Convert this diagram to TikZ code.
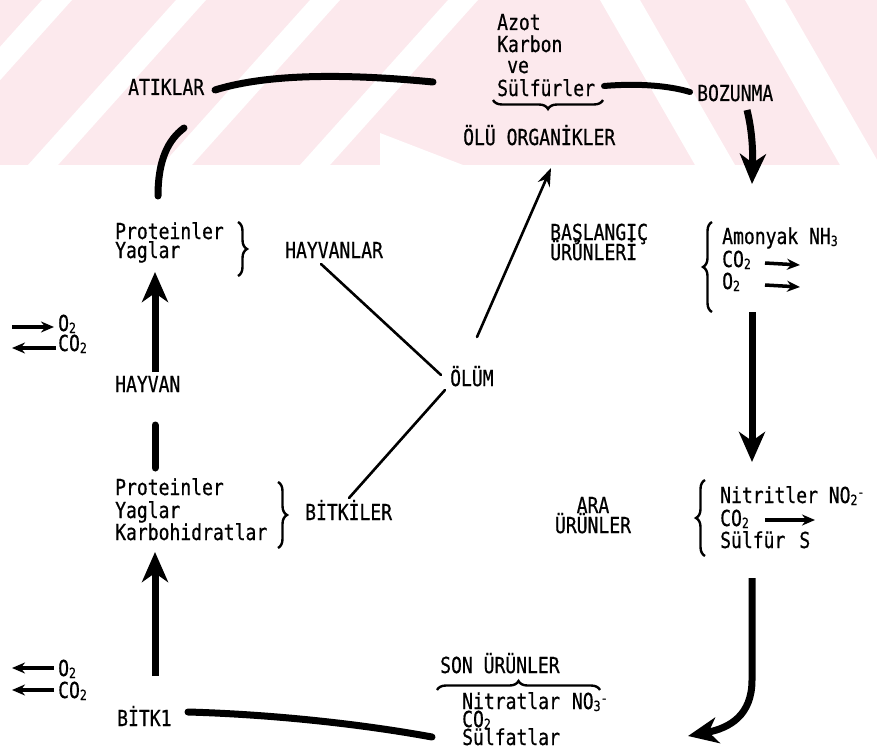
\documentclass[tikz,border=0pt]{standalone}
\usepackage{fontspec}
\setmainfont[FakeStretch=0.82,FakeBold=0.6]{DejaVu Sans Mono}
\usetikzlibrary{decorations.pathreplacing,arrows.meta}
\definecolor{wmpink}{HTML}{FCE9ED}
\newcommand{\lsub}[1]{\raisebox{-2pt}{\fontsize{14}{14}\selectfont #1}}
\newcommand{\lsup}[1]{\raisebox{6pt}{\fontsize{14}{14}\selectfont #1}}
\begin{document}
\begin{tikzpicture}[x=1pt,y=-1pt,
  every node/.style={font=\fontsize{22}{24}\selectfont, inner sep=0pt},
  lbl/.style={anchor=base west},
  heavy/.style={line width=7pt, line cap=round},
  heavyarrow/.style={line width=7pt, -{Stealth[length=30pt,width=26pt,inset=9pt]}},
  thinline/.style={line width=2.6pt, line cap=round},
  smallarrow/.style={line width=3.5pt, -{Stealth[length=13pt,width=11pt]}},
  bracestyle/.style={line width=2.4pt, decorate, decoration={brace, amplitude=9pt}},
  wmstripe/.style={fill=white}]
\useasboundingbox (0,0) rectangle (877,749);
% watermark band
\fill[wmpink] (0,0) rectangle (877,165);
\begin{scope}
\clip (0,0) rectangle (877,165);
\fill[wmstripe] (-106,165) -- (-76,165) -- (72,0) -- (42,0) -- cycle;
\fill[wmstripe] (28,165) -- (58,165) -- (206,0) -- (176,0) -- cycle;
\fill[wmstripe] (162,165) -- (192,165) -- (340,0) -- (310,0) -- cycle;
\fill[wmstripe] (300,165) -- (330,165) -- (478,0) -- (448,0) -- cycle;
\fill[wmstripe] (380,133) -- (463,165) -- (380,165) -- cycle;
\fill[wmstripe] (600,0) -- (640,0) -- (735,165) -- (695,165) -- cycle;
\fill[wmstripe] (745,0) -- (785,0) -- (880,165) -- (840,165) -- cycle;
\end{scope}

% top texts
\node[lbl] (atik) at (128,95) {ATIKLAR};
\node[lbl] (azot) at (497,30) {Azot};
\node[lbl] (karb) at (497,52) {Karbon};
\node[lbl] (ve) at (507,73) {ve};
\node[lbl] (sulf) at (497,96) {Sülfürler};
\node[lbl] (boz) at (697,101) {BOZUNMA};
\node[lbl] (olu) at (463,145) {ÖLÜ ORGANİKLER};

% animal block
\node[lbl] (prot1) at (115,239) {Proteinler};
\node[lbl] (yag1) at (115,258) {Yaglar};
\node[lbl] (hayvanlar) at (285,258) {HAYVANLAR};
\node[lbl] (o2a) at (58,331) {O\lsub{2}};
\node[lbl] (co2a) at (58,351) {CO\lsub{2}};
\node[lbl] (hayvan) at (115,392) {HAYVAN};
\node[lbl] (olum) at (450,386) {ÖLÜM};

% start products
\node[lbl] (basl) at (550,240) {BAŞLANGIÇ};
\node[lbl] (urun1) at (550,260) {ÜRÜNLERİ};
\node[lbl] (amon) at (722,244) {Amonyak NH\lsub{3}};
\node[lbl] (co2b) at (722,267) {CO\lsub{2}};
\node[lbl] (o2b) at (722,289) {O\lsub{2}};

% plant block
\node[lbl] (prot2) at (115,495) {Proteinler};
\node[lbl] (yag2) at (115,518) {Yaglar};
\node[lbl] (karbo) at (115,540) {Karbohidratlar};
\node[lbl] (bitkiler) at (305,520) {BİTKİLER};
\node[anchor=base] (ara) at (593,513) {ARA};
\node[anchor=base] (urun2) at (593,533) {ÜRÜNLER};
\node[lbl] (nitrit) at (720,503) {Nitritler NO\lsub{2}\lsup{-}};
\node[lbl] (co2c) at (720,526) {CO\lsub{2}};
\node[lbl] (sulfur) at (720,548) {Sülfür\hspace{14pt}S};

% bottom
\node[lbl] (o2c) at (58,676) {O\lsub{2}};
\node[lbl] (co2d) at (58,698) {CO\lsub{2}};
\node[lbl] (son) at (440,673) {SON ÜRÜNLER};
\node[lbl] (nitrat) at (462,709) {Nitratlar\hspace{12pt}NO\lsub{3}\lsup{-}};
\node[lbl] (co2e) at (462,727) {CO\lsub{2}};
\node[lbl] (sulfat) at (462,745) {Sülfatlar};
\node[lbl] (bitki) at (117,726) {BİTK1};

% coordinates for connectors
\coordinate (c1) at (433,82);
\coordinate (c2) at (215,90);
\coordinate (c3) at (158,196);
\coordinate (c4) at (184,128);
\coordinate (c5) at (604,86);
\coordinate (c6) at (690,92);
\coordinate (c7) at (747,110);
\coordinate (c8) at (752,184);
\coordinate (c9) at (752,312);
\coordinate (c10) at (752,462);
\coordinate (c11) at (752,578);
\coordinate (c12) at (688,736);
\coordinate (c13) at (432,737);
\coordinate (c14) at (188,712);
\coordinate (c15) at (155,676);
\coordinate (c16) at (155,552);
\coordinate (c17) at (155,372);
\coordinate (c18) at (155,272);
\coordinate (c19) at (155,425);
\coordinate (c20) at (155,468);
\coordinate (h1) at (321,264);
\coordinate (h2) at (441,375);
\coordinate (b1) at (445,390);
\coordinate (b2) at (349,498);
\coordinate (u1) at (477,337);
\coordinate (u2) at (551,168);

% heavy cycle strokes
\draw[heavy] (c1) .. controls (330,72) and (260,76) .. (c2);
\draw[heavy] (c3) .. controls (158,160) and (168,140) .. (c4);
\draw[heavy, line width=6pt] (c5) .. controls (640,83) and (670,86) .. (c6);
\draw[heavyarrow] (c7) .. controls (752,130) and (753,150) .. (c8);
\draw[heavyarrow] (c9) -- (c10);
\draw[heavyarrow] (c11) -- (752,680) .. controls (752,715) and (730,728) .. (c12);
\draw[heavy] (c13) .. controls (350,722) and (260,714) .. (c14);
\draw[heavyarrow] (c15) -- (c16);
\draw[heavyarrow] (c17) -- (c18);
\draw[heavy] (c19) -- (c20);

% thin lines to/from OLUM
\draw[thinline] (h1) -- (h2);
\draw[thinline] (b1) -- (b2);
\draw[thinline, -{Stealth[length=18pt,width=13pt]}] (u1) -- (u2);

% small gas arrows
\draw[smallarrow] (765,263) -- (800,265);
\draw[smallarrow] (765,285) -- (800,287);
\draw[smallarrow] (765,520) -- (815,520);
\draw[smallarrow] (12,327) -- (54,327);
\draw[smallarrow] (56,348) -- (12,348);
\draw[smallarrow] (54,668) -- (12,668);
\draw[smallarrow] (54,690) -- (12,690);

% braces
\draw[bracestyle] (603,100) -- (493,100);
\draw[bracestyle] (238,222) -- (238,276);
\draw[bracestyle] (278,482) -- (278,548);
\draw[bracestyle] (712,312) -- (712,222);
\draw[bracestyle] (705,556) -- (705,480);
\draw[bracestyle] (437,690) -- (600,690);
\end{tikzpicture}
\end{document}
